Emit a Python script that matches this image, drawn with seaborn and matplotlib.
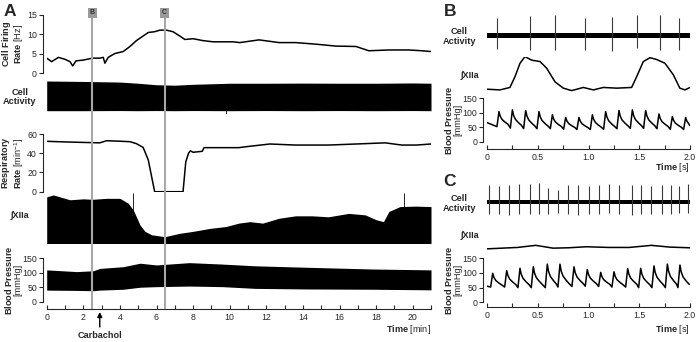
import numpy as np
import pandas as pd
import matplotlib
matplotlib.use("Agg")
import matplotlib.pyplot as plt
import seaborn as sns

# ---------------- Panel A : whole recording (time in min) ----------------
# cell firing rate [Hz]
fr_t = [0, 0.27, 0.64, 1.0, 1.27, 1.42, 1.6, 2.0, 2.5, 2.9, 3.09, 3.18, 3.36, 3.73, 4.18,
        4.55, 4.9, 5.27, 5.55, 5.9, 6.18, 6.55, 6.9, 7.27, 7.55, 8.0, 8.55, 9.1, 10.2,
        10.55, 11.6, 12.7, 13.6, 14.7, 15.8, 16.9, 17.6, 18.7, 19.8, 20.5, 21.0]
fr_hz = [3.9, 3.0, 4.1, 3.6, 3.0, 1.9, 3.2, 3.4, 3.9, 3.9, 4.1, 2.6, 4.1, 5.1, 5.6,
         6.9, 8.4, 9.6, 10.5, 10.7, 11.1, 11.1, 10.7, 9.6, 8.7, 8.9, 8.4, 8.1, 8.1,
         7.9, 8.6, 7.9, 7.9, 7.5, 7.0, 6.9, 5.8, 6.0, 6.0, 5.8, 5.6]

# cell activity envelope (a.u.)
ca_t = [0, 2, 4, 5, 6, 7, 8, 10, 12, 14, 16, 18, 20, 21]
ca_top = [1.0, 0.97, 0.93, 0.85, 0.75, 0.72, 0.78, 0.85, 0.85, 0.86, 0.85, 0.85, 0.87, 0.85]
ca_bot = [-0.98, -0.98, -0.97, -0.98, -0.97, -0.98, -0.97, -0.98, -0.97, -0.98, -0.97, -0.98, -0.97, -0.98]
ca_spike_t = [9.8]
ca_spike_v = [-1.4]

# respiratory rate [1/min]
rr_t = [0, 1.1, 2.5, 2.9, 3.27, 4.0, 4.55, 4.9, 5.27, 5.55, 5.9, 7.45, 7.6, 7.75, 7.85,
        8.0, 8.5, 8.6, 9.5, 10.5, 10.9, 12.2, 13.6, 15.4, 16.9, 18.5, 19.4, 20.2, 21.0]
rr_val = [52.4, 51.7, 51, 50.8, 53, 52.5, 52, 50, 46, 33, 0, 0, 31, 40, 42.5,
          41, 42, 45.8, 45.8, 45.8, 46.8, 49.6, 48.5, 48.5, 49.6, 50.8, 48.5, 48.5, 49.6]

# integrated XII nerve activity envelope (a.u.)
xii_t = [0, 0.36, 0.73, 1.27, 2.0, 2.5, 3.27, 4.0, 4.45, 4.73, 4.9, 5.1, 5.37, 5.73,
         6.45, 7.27, 8.0, 8.9, 9.8, 10.5, 11.1, 11.8, 12.7, 13.6, 14.5, 15.4, 16.5,
         17.4, 18.0, 18.4, 18.7, 19.3, 20.2, 21.0]
xii_top = [0.92, 0.96, 0.92, 0.86, 0.88, 0.87, 0.89, 0.89, 0.79, 0.65, 0.51, 0.34, 0.21,
           0.14, 0.10, 0.17, 0.21, 0.27, 0.31, 0.38, 0.41, 0.38, 0.48, 0.53, 0.53, 0.51,
           0.58, 0.55, 0.45, 0.41, 0.62, 0.72, 0.73, 0.72]
xii_floor = -0.04
xii_spike_t = [4.72, 19.5]
xii_spike_v = [0.99, 1.0]

# blood pressure envelope [mmHg]
bp_t = [0, 1.64, 2.55, 2.9, 4.18, 5.1, 6.0, 7.8, 9.6, 11.4, 14.2, 17.8, 21]
bp_sys = [110, 104, 107, 115, 121, 133, 127, 135, 130, 124, 119, 113, 110]
bp_dia = [40, 39, 38, 40, 43, 50, 52, 54, 52, 46, 44, 43, 41]

marker_t = [2.5, 6.45]
marker_lbl = ["B", "C"]
carbachol_t = 2.9

# ---------------- Panel B : 2 s before carbachol (time in s) ----------------
b_spk_t = [0.095, 0.42, 0.67, 0.965, 1.235, 1.48, 1.70, 1.89]
b_spk_up = [0.85, 0.95, 1.0, 0.85, 0.9, 1.0, 1.0, 0.85]
b_spk_dn = [-0.7, -0.75, -0.75, -0.75, -0.8, -0.65, -0.75, -0.75]

b_xii_t = [0.0, 0.128, 0.226, 0.276, 0.325, 0.374, 0.44, 0.522, 0.588, 0.67, 0.752, 0.834,
           0.949, 1.048, 1.146, 1.278, 1.425, 1.475, 1.54, 1.606, 1.67, 1.754, 1.836,
           1.90, 1.95, 2.0]
b_xii = [0.08, 0.06, 0.13, 0.44, 0.82, 1.01, 0.91, 0.87, 0.68, 0.29, 0.11, 0.04,
         0.13, 0.06, 0.13, 0.11, 0.13, 0.44, 0.87, 0.98, 0.93, 0.82, 0.49,
         0.11, 0.06, 0.13]

b_beat_t = [0.118, 0.25, 0.381, 0.512, 0.644, 0.775, 0.906, 1.038, 1.169, 1.30, 1.432,
            1.563, 1.694, 1.826, 1.957]
b_beat_sys = [104, 110, 108, 104, 93, 84, 84, 93, 104, 108, 110, 108, 96, 87, 84]
b_beat_dia = [52, 47, 45, 45, 45, 43, 42, 42, 43, 45, 46, 46, 45, 43, 42]
b_bp_start, b_bp_end = 66, 55

# ---------------- Panel C : 2 s after carbachol ----------------
c_spk_t = [0.023, 0.12, 0.22, 0.32, 0.42, 0.51, 0.60, 0.70, 0.80, 0.90, 1.00, 1.10,
           1.20, 1.30, 1.43, 1.52, 1.62, 1.72, 1.81, 1.89, 1.98]
c_spk_up = [0.85, 0.8, 0.85, 0.9, 0.9, 0.95, 0.7, 0.6, 0.85, 0.85, 0.8, 0.85,
            0.9, 0.85, 0.85, 0.85, 0.8, 0.85, 0.85, 0.8, 0.9]
c_spk_dn = [-0.6, -0.6, -0.65, -0.6, -0.6, -0.6, -0.6, -0.55, -0.6, -0.65, -0.6, -0.6,
            -0.55, -0.6, -0.65, -0.6, -0.6, -0.6, -0.6, -0.55, -0.55]

c_xii_t = [0.0, 0.15, 0.3, 0.48, 0.65, 0.8, 0.98, 1.2, 1.4, 1.62, 1.8, 2.0]
c_xii = [0.29, 0.31, 0.33, 0.39, 0.31, 0.32, 0.35, 0.33, 0.33, 0.39, 0.34, 0.32]

c_beat_t = [0.056, 0.194, 0.325, 0.456, 0.594, 0.719, 0.857, 0.988, 1.12, 1.251, 1.386,
            1.514, 1.645, 1.777, 1.901]
c_beat_sys = [99, 108, 116, 121, 130, 130, 121, 112, 102, 104, 115, 116, 124, 130, 127]
c_beat_dia = [52, 52, 50, 50, 50, 52, 54, 55, 54, 52, 52, 50, 50, 50, 50]
c_bp_start, c_bp_end = 55, 61


def beats_to_trace(peak_t, sys_v, dia_v, v0, v_end, t_end=2.0):
    # one onset / peak / decay outline per heartbeat
    xs, ys = [0.0], [v0]
    for tp, s, d in zip(peak_t, sys_v, dia_v):
        a = s - d
        for dt, f in [(-0.02, 0.0), (0.0, 1.0), (0.012, 0.7), (0.03, 0.48),
                      (0.06, 0.3), (0.09, 0.15)]:
            if 0 < tp + dt < t_end:
                xs.append(tp + dt)
                ys.append(d + f * a)
    xs.append(t_end)
    ys.append(v_end)
    return pd.DataFrame({"t": xs, "p": ys})


sns.set_style("ticks")
plt.rcParams["font.family"] = ["Liberation Sans", "DejaVu Sans"]
plt.rcParams["mathtext.fontset"] = "custom"
plt.rcParams["mathtext.rm"] = "Liberation Sans"
plt.rcParams["mathtext.bf"] = "Liberation Sans:bold"
plt.rcParams["axes.linewidth"] = 0.8

W, H = 699, 342
fig = plt.figure(figsize=(W / 100, H / 100), dpi=100)


def px_axes(x0, y0, x1, y1):
    return fig.add_axes([x0 / W, 1 - y1 / H, (x1 - x0) / W, (y1 - y0) / H])


def ftext(x, y, s, **kw):
    return fig.text(x / W, 1 - y / H, s, **kw)


def y_style(ax, ticks, lim):
    ax.set_ylim(*lim)
    sns.despine(ax=ax, bottom=True)
    ax.spines["left"].set_position(("outward", 3))
    ax.spines["left"].set_bounds(ticks[0], ticks[-1])
    ax.set_yticks(ticks)
    ax.set_xticks([])
    ax.tick_params(axis="y", length=3, width=0.8, pad=1, labelsize=6.3, direction="out")
    ax.set_xlabel("")
    ax.set_ylabel("")
    ax.patch.set_alpha(0)


def x_style(ax, offset):
    ax.spines["bottom"].set_visible(True)
    ax.spines["bottom"].set_position(("outward", offset))
    ax.tick_params(axis="x", which="both", length=3, width=0.8, direction="in",
                   pad=3, labelsize=6.3, bottom=True)


lw = 1.1
AX0, AX1 = 46.7, 431
LBL = 6.6

# ---- A: firing rate
ax = px_axes(AX0, 15, AX1, 73.3)
sns.lineplot(x=fr_t, y=fr_hz, ax=ax, color="k", lw=lw)
ax.set_xlim(0, 21)
y_style(ax, [0, 5, 10, 15], (0, 15))

# ---- A: cell activity
ax = px_axes(AX0, 78, AX1, 114)
ax.fill_between(ca_t, ca_bot, ca_top, color="k", lw=0)
ax.vlines(ca_spike_t, ca_spike_v, 0, color="k", lw=0.6)
ax.set_xlim(0, 21)
ax.set_ylim(-1.2, 1.2)
ax.axis("off")

# ---- A: respiratory rate
ax = px_axes(AX0, 134, AX1, 191.7)
sns.lineplot(x=rr_t, y=rr_val, ax=ax, color="k", lw=lw)
ax.set_xlim(0, 21)
y_style(ax, [0, 20, 40, 60], (0, 60))

# ---- A: XIIa
ax = px_axes(AX0, 193, AX1, 243.5)
ax.fill_between(xii_t, xii_floor, xii_top, color="k", lw=0)
ax.vlines(xii_spike_t, 0, xii_spike_v, color="k", lw=0.6)
ax.set_xlim(0, 21)
ax.set_ylim(-0.04, 1.0)
ax.axis("off")

# ---- A: blood pressure
ax = px_axes(AX0, 258.3, AX1, 301.7)
ax.fill_between(bp_t, bp_dia, bp_sys, color="k", lw=0)
ax.set_xlim(0, 21)
y_style(ax, [0, 50, 100, 150], (0, 150))
x_style(ax, 5.3)
ax.spines["bottom"].set_bounds(0, 21)
ax.set_xticks(range(0, 21, 2))
ax.set_xticks(list(range(1, 22, 2)), minor=True)
ax.set_xticklabels([str(v) for v in range(0, 21, 2)])
ax_bpA = ax

# ---- A: event markers overlay
ov = px_axes(AX0, 17, AX1, 309)
ov.set_xlim(0, 21)
ov.set_ylim(0, 1)
ov.axis("off")
for t, lbl in zip(marker_t, marker_lbl):
    ov.axvline(t, color="#a8a8a8", lw=1.5)
    ov.text(t, (309 - 13) / (309 - 17), lbl, ha="center", va="center", fontsize=5,
            fontweight="bold", color="#333333", clip_on=False,
            bbox=dict(boxstyle="square,pad=0.25", fc="#9a9a9a", ec="none"))

ax_bpA.annotate("", xy=(carbachol_t, 1 - 312 / H), xytext=(carbachol_t, 1 - 327 / H),
                xycoords=("data", "figure fraction"), textcoords=("data", "figure fraction"),
                arrowprops=dict(arrowstyle="-|>", color="k", lw=1, mutation_scale=7,
                                shrinkA=0, shrinkB=0))
ax_bpA.annotate("Carbachol", xy=(carbachol_t, 1 - 335 / H),
                xycoords=("data", "figure fraction"), ha="center", va="center",
                fontsize=6.6, fontweight="bold")

# ---- A labels
ftext(10, 12, "A", fontsize=12.5, fontweight="bold", ha="center", va="center")
ftext(12.5, 44, r"$\mathbf{Cell\ Firing}$" "\n" r"$\mathbf{Rate}$ [Hz]", rotation=90,
      ha="center", va="center", fontsize=LBL, multialignment="center", linespacing=0.95)
ftext(20, 97, "Cell\nActivity", ha="center", va="center", fontsize=LBL,
      fontweight="bold", linespacing=1.1)
ftext(12.5, 163, r"$\mathbf{Respiratory}$" "\n" r"$\mathbf{Rate}$ [min$^{-1}$]",
      rotation=90, ha="center", va="center", fontsize=LBL, multialignment="center",
      linespacing=0.95)
ftext(11, 215, "∫XIIa", ha="left", va="center", fontsize=LBL, fontweight="bold")
ftext(12.5, 280, r"$\mathbf{Blood\ Pressure}$" "\n[mmHg]", rotation=90,
      ha="center", va="center", fontsize=LBL, multialignment="center", linespacing=0.95)
ftext(431, 329, r"$\mathbf{Time}$ [min]", ha="right", va="center", fontsize=6.6)

# ---------------- Panels B and C ----------------
BX0, BX1 = 487, 690


def short_panel(letter, y_lbl, ca_box, xii_box, bp_box, axis_off, spk_t, spk_up, spk_dn,
                noise, xt, xv, beats, time_y):
    ftext(450, y_lbl, letter, fontsize=12.5, fontweight="bold", ha="center", va="center")
    # cell activity
    a = px_axes(BX0, ca_box[0], BX1, ca_box[1])
    a.fill_between([0, 2], [-noise, -noise], [noise, noise], color="k", lw=0)
    a.vlines(spk_t, spk_dn, spk_up, color="#3a3a3a", lw=0.8)
    a.set_xlim(0, 2)
    a.set_ylim(-1, 1)
    a.axis("off")
    ftext(476, (ca_box[0] + ca_box[1]) / 2 + 1.5, "Cell\nActivity", ha="right", va="center",
          fontsize=LBL, fontweight="bold", multialignment="center", linespacing=1.1)
    # XIIa
    a = px_axes(BX0, xii_box[0], BX1, xii_box[1])
    sns.lineplot(x=xt, y=xv, ax=a, color="k", lw=lw)
    a.set_xlim(0, 2)
    a.set_ylim(0, 1)
    a.axis("off")
    # BP
    a = px_axes(BX0, bp_box[0], BX1, bp_box[1])
    sns.lineplot(data=beats, x="t", y="p", ax=a, color="k", lw=lw, sort=False, estimator=None)
    a.set_xlim(0, 2)
    y_style(a, [0, 50, 100, 150], (0, 150))
    x_style(a, axis_off)
    a.spines["bottom"].set_bounds(0, 2)
    a.set_xticks([0, 0.5, 1.0, 1.5, 2.0])
    a.set_xticklabels(["0", "0.5", "1.0", "1.5", "2.0"])
    a.set_xticks([0.25, 0.75, 1.25, 1.75], minor=True)
    ftext(453, (bp_box[0] + bp_box[1]) / 2, r"$\mathbf{Blood\ Pressure}$" "\n[mmHg]",
          rotation=90, ha="center", va="center", fontsize=LBL, multialignment="center",
          linespacing=0.95)
    ftext(690, time_y, r"$\mathbf{Time}$ [s]", ha="right", va="center", fontsize=6.6)


b_bp = beats_to_trace(b_beat_t, b_beat_sys, b_beat_dia, b_bp_start, b_bp_end)
c_bp = beats_to_trace(c_beat_t, c_beat_sys, c_beat_dia, c_bp_start, c_bp_end)

short_panel("B", 12, (15.3, 55.3), (57, 92), (98.3, 141.7), 5.3,
            b_spk_t, b_spk_up, b_spk_dn, 0.11, b_xii_t, b_xii, b_bp, 168)
ftext(461, 75, "∫XIIa", ha="left", va="center", fontsize=LBL, fontweight="bold")

short_panel("C", 182, (181.7, 221.7), (224, 259), (258.3, 302.3), 3.5,
            c_spk_t, c_spk_up, c_spk_dn, 0.11, c_xii_t, c_xii, c_bp, 330)
ftext(461, 235.7, "∫XIIa", ha="left", va="center", fontsize=LBL, fontweight="bold")

fig.savefig("out.png", dpi=100, facecolor="white")
